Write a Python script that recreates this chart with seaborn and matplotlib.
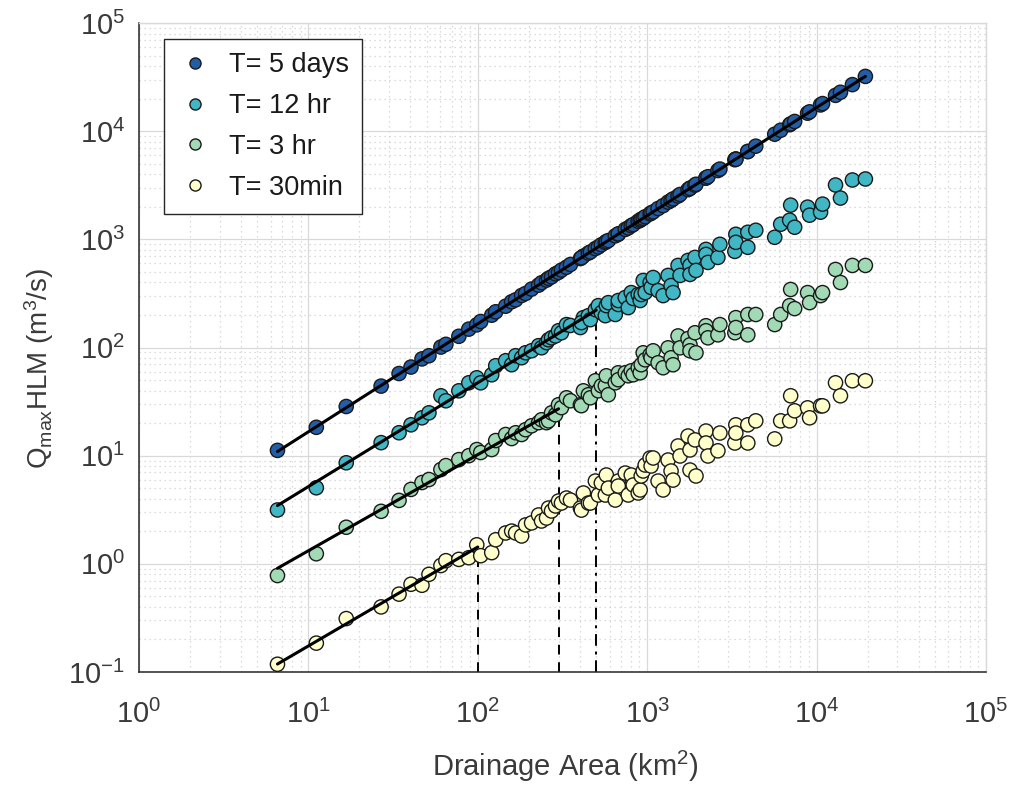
import numpy as np
import pandas as pd
import matplotlib
matplotlib.use("Agg")
import matplotlib.pyplot as plt
import seaborn as sns
from matplotlib.ticker import FixedLocator, LogLocator, NullFormatter
from matplotlib.lines import Line2D

# ---------------- data ----------------
area = [6.57, 11.14, 16.73, 26.88, 34.30, 40.35, 46.84, 51.50, 60.58, 64.82,
        77.32, 88.52, 98.65, 104.1, 120.9, 127.6, 146.1, 158.5, 167.3, 181.5,
        191.6, 207.8, 228.5, 237.9, 254.6, 261.6, 272.5, 287.7, 299.6, 312.0,
        333.9, 352.5, 403.5, 420.2, 409.0, 449.7, 462.0, 494.5, 514.9, 536.3,
        566.2, 574.1, 589.9, 648.4, 675.2, 675.2, 742.4, 773.1, 805.2, 827.2,
        885.3, 909.6, 922.1, 947.3, 973.2, 1041, 1055, 1085, 1160, 1242,
        1329, 1384, 1422, 1522, 1564, 1743, 1790, 1790, 1916, 1942,
        2224, 2224, 2285, 2616, 2688, 3293, 3338, 3338, 3928, 3928,
        4377, 5662, 6140, 6938, 7033, 7424, 8852, 9096, 10560, 10850,
        12940, 13840, 16280, 19420]

q_5days = [11.2, 18.3, 28.5, 44.0, 57.5, 66.0, 78.5, 84.0, 101, 107,
           127, 148, 162, 174, 199, 214, 241, 265, 276, 303,
           316, 347, 377, 397, 420, 436, 450, 480, 495, 520,
           552, 586, 665, 701, 676, 746, 765, 822, 850, 892,
           935, 955, 975, 1078, 1115, 1125, 1235, 1276, 1338, 1370,
           1470, 1502, 1535, 1565, 1618, 1720, 1755, 1795, 1928, 2050,
           2210, 2290, 2365, 2515, 2600, 2880, 2975, 2960, 3170, 3230,
           3680, 3700, 3795, 4330, 4465, 5450, 5540, 5500, 6500, 6480,
           7270, 9380, 10200, 11480, 11690, 12300, 14680, 15100, 17500, 18000,
           21450, 22900, 26950, 32100]

q_12hr = [3.15, 5.05, 8.6, 13.2, 16.3, 19.3, 22.4, 24.9, 35.8, 32.2,
          39.8, 47.2, 52.5, 47.2, 56.0, 67.9, 75.5, 69.4, 84.0, 80.5,
          89.5, 93.4, 104, 99.5, 111, 118, 123, 128, 143, 137,
          163, 160, 153, 189, 170, 197, 181, 224, 244, 210,
          197, 244, 260, 202, 250, 272, 290, 234, 322, 284,
          309, 272, 309, 417, 322, 399, 359, 444, 336, 302,
          464, 374, 322, 574, 464, 639, 574, 474, 681, 516,
          808, 726, 612, 681, 900, 774, 1114, 939, 1163, 844,
          1214, 1045, 1380, 1503, 2073, 1294, 1986, 1673, 1784, 2118,
          3181, 2408, 3540, 3616]

q_3hr = [0.78, 1.24, 2.18, 3.06, 3.86, 4.88, 5.65, 6.02, 7.45, 8.10,
         9.20, 10.0, 11.4, 10.7, 11.4, 13.8, 15.7, 14.4, 16.3, 15.7,
         17.4, 18.9, 20.2, 21.5, 20.2, 21.0, 24.9, 23.9, 29.6, 27.8,
         34.3, 32.2, 29.6, 39.8, 29.0, 36.6, 34.3, 49.3, 39.8, 44.3,
         44.3, 54.8, 36.6, 47.2, 58.4, 50.4, 58.4, 54.8, 60.9, 56.0,
         65.0, 58.4, 69.3, 89.4, 77.0, 85.7, 80.4, 93.3, 72.3, 65.0,
         99.4, 80.4, 69.3, 128, 99.4, 121, 106, 93.3, 137, 89.4,
         159, 143, 123, 131, 163, 137, 189, 153, 202, 131,
         202, 163, 202, 244, 344, 229, 322, 260, 302, 322,
         527, 399, 574, 574]

q_30min = [0.118, 0.185, 0.312, 0.400, 0.525, 0.648, 0.634, 0.800, 0.965, 1.07,
           1.10, 1.14, 1.50, 1.19, 1.27, 1.67, 1.93, 2.01, 1.93, 1.81,
           2.29, 2.39, 2.83, 2.49, 2.65, 3.28, 3.08, 3.43, 3.81, 3.65,
           4.06, 3.89, 3.28, 4.52, 3.14, 3.65, 3.65, 5.83, 4.33, 5.59,
           4.33, 6.63, 5.02, 3.89, 5.83, 5.24, 6.91, 4.33, 6.63, 5.36,
           4.52, 4.82, 6.49, 7.22, 8.20, 9.52, 8.03, 9.52, 5.83, 4.82,
           9.12, 7.22, 5.95, 12.3, 9.94, 15.2, 11.3, 7.37, 14.0, 6.49,
           16.9, 13.1, 9.94, 11.1, 16.2, 13.1, 19.3, 16.2, 19.3, 13.1,
           21.0, 14.3, 21.0, 21.0, 35.8, 26.0, 27.7, 22.4, 28.9, 28.9,
           47.2, 35.8, 49.3, 49.3]

series_labels = ["T= 5 days", "T= 12 hr", "T= 3 hr", "T= 30min"]
series_colors = ["#225ea8", "#41b6c4", "#a1dab4", "#ffffcc"]
fit_upper = [20000, 500, 300, 100]          # range of each power-law fit (km2)
break_areas = [100, 300, 500]               # scale-break markers
break_series = [3, 2, 1]                    # series whose fit sets the line top
break_styles = [(0, (5, 4)), (0, (5, 4)), (0, (6, 3, 1.5, 3))]
x_ticks = [1, 10, 100, 1000, 10000, 100000]
y_ticks = [0.1, 1, 10, 100, 1000, 10000, 100000]

# ---------------- build long table ----------------
values = [q_5days, q_12hr, q_3hr, q_30min]
df = pd.concat([pd.DataFrame({"area": area, "q": v, "T": lab})
                for v, lab in zip(values, series_labels)], ignore_index=True)

sns.set_theme(style="white")
plt.rcParams["font.family"] = ["Liberation Sans", "DejaVu Sans"]
plt.rcParams["mathtext.default"] = "regular"
plt.rcParams["mathtext.fontset"] = "custom"
plt.rcParams["mathtext.rm"] = "Liberation Sans"
plt.rcParams["axes.unicode_minus"] = False

fig = plt.figure(figsize=(10.13, 7.86), dpi=100)
ax = fig.add_axes([0.1372, 0.145, 0.8361, 0.8257])
ax.set_xscale("log")
ax.set_yscale("log")

sns.scatterplot(data=df, x="area", y="q", hue="T", hue_order=series_labels,
                palette=series_colors, s=105, edgecolor="#1a1a1a",
                linewidth=1.0, alpha=1, ax=ax, zorder=3, legend=False)

# power-law fits
a_arr = np.asarray(area, dtype=float)
fits = []
for v, up in zip(values, fit_upper):
    y_arr = np.asarray(v, dtype=float)
    m = a_arr <= up
    b, a0 = np.polyfit(np.log10(a_arr[m]), np.log10(y_arr[m]), 1)
    fits.append((b, a0))
    xs = np.array([a_arr.min(), min(up, a_arr.max())])
    ax.plot(xs, 10 ** (a0 + b * np.log10(xs)), color="black", lw=2.2, zorder=4)

# vertical scale-break lines
for xa, si, ls in zip(break_areas, break_series, break_styles):
    b, a0 = fits[si]
    ax.plot([xa, xa], [0.1, 10 ** (a0 + b * np.log10(xa))], color="black",
            lw=1.4, linestyle=ls, zorder=2)

ax.set_xlim(1, 1e5)
ax.set_ylim(0.1, 1e5)
ax.xaxis.set_major_locator(FixedLocator(x_ticks))
ax.yaxis.set_major_locator(FixedLocator(y_ticks))
ax.xaxis.set_minor_locator(LogLocator(base=10, subs=np.arange(2, 10), numticks=20))
ax.yaxis.set_minor_locator(LogLocator(base=10, subs=np.arange(2, 10), numticks=20))
ax.xaxis.set_minor_formatter(NullFormatter())
ax.yaxis.set_minor_formatter(NullFormatter())

ax.grid(which="major", color="#d9d9d9", linestyle="-", linewidth=0.9, zorder=0)
ax.grid(which="minor", color="#d0d0d0", linestyle=(0, (1, 3)), linewidth=0.9, zorder=0)
ax.set_axisbelow(True)

for side in ["left", "bottom"]:
    ax.spines[side].set_color("#262626")
    ax.spines[side].set_linewidth(1.1)
for side in ["top", "right"]:
    ax.spines[side].set_color("#d9d9d9")
    ax.spines[side].set_linewidth(1.0)

ax.tick_params(which="major", direction="in", length=7, width=1.0,
               color="#262626", labelsize=21, labelcolor="#3a3a3a")
ax.tick_params(axis="x", which="major", pad=20)
ax.tick_params(axis="y", which="major", pad=10)
ax.tick_params(which="minor", direction="in", length=4, width=0.9, color="#262626")
ax.tick_params(top=False, right=False, which="both")

ax.set_xlabel("Drainage Area (km$^2$)", fontsize=21, color="#3a3a3a")
ax.set_ylabel("Q$_{max}$HLM (m$^3$/s)", fontsize=20, color="#3a3a3a")
ax.xaxis.set_label_coords(0.503, -0.118)
ax.yaxis.set_label_coords(-0.098, 0.467)

handles = [Line2D([0], [0], marker="o", linestyle="none", markersize=8,
                  markerfacecolor=c, markeredgecolor="#1a1a1a", markeredgewidth=1.0)
           for c in series_colors]
leg = ax.legend(handles, series_labels, loc="upper left",
                bbox_to_anchor=(0.029, 0.976), fontsize=19.5, frameon=True,
                fancybox=False, edgecolor="#262626", framealpha=1,
                handletextpad=0.6, borderpad=0.5, labelspacing=0.55,
                handlelength=1.3, borderaxespad=0)
leg.get_frame().set_linewidth(1.0)
for t in leg.get_texts():
    t.set_color("#1a1a1a")

fig.savefig("out.png", dpi=100)
